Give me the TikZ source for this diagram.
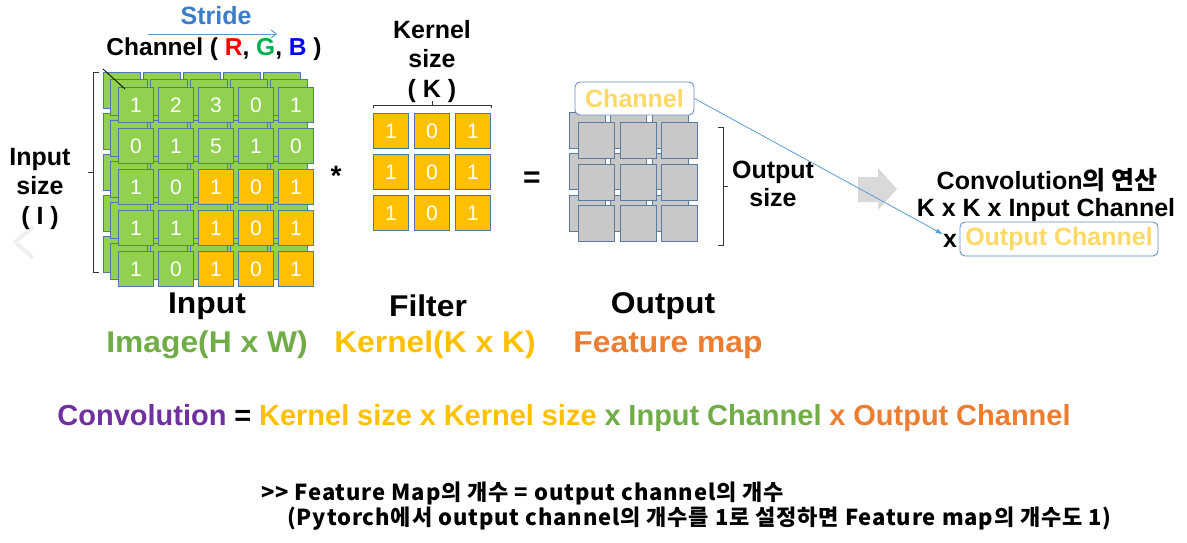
\documentclass[tikz,border=0pt]{standalone}
\usepackage{fontspec}
\setmainfont{Liberation Sans}
\newfontfamily\kr{Noto Sans CJK KR}
\newfontfamily\krnote{Noto Sans CJK KR}[LetterSpace=4]
\newfontfamily\widesans{Liberation Sans}[FakeStretch=1.06]
\usetikzlibrary{arrows.meta}
\newcommand\fsz[2]{\fontsize{#1}{#2}\selectfont}
\definecolor{strideblue}{HTML}{3D7CC9}
\definecolor{lineblue}{HTML}{5B9BD5}
\definecolor{rR}{HTML}{FF0000}
\definecolor{gG}{HTML}{00B050}
\definecolor{bB}{HTML}{0000FF}
\definecolor{cellgreen}{HTML}{92D050}
\definecolor{cellyellow}{HTML}{FFC000}
\definecolor{cellborder}{HTML}{4F79A6}
\definecolor{outgrey}{HTML}{C8C8C8}
\definecolor{outborder}{HTML}{5B7BA0}
\definecolor{chyellow}{HTML}{FFD966}
\definecolor{boxblue}{HTML}{6A8FC0}
\definecolor{imggreen}{HTML}{70AD47}
\definecolor{kerorange}{HTML}{FFC000}
\definecolor{featorange}{HTML}{ED7D31}
\definecolor{convpurple}{HTML}{7030A0}
\definecolor{arrowgrey}{HTML}{D9D9D9}
\tikzset{
  lbl/.style={font=\bfseries\fsz{25}{29}, inner sep=0pt, align=center},
  biglbl/.style={lbl, font=\widesans\bfseries\fsz{30}{30}},
  gcell/.style={draw=cellborder, fill=cellgreen, line width=0.8pt, minimum width=35pt,
    minimum height=35pt, inner sep=0pt, anchor=north west, text=white, font=\fsz{21}{21}},
  ocell/.style={gcell, fill=outgrey, draw=outborder, minimum width=36pt, minimum height=36pt},
  bgcell/.style={draw=cellborder, fill=cellgreen, line width=0.8pt},
  obgcell/.style={draw=outborder, fill=outgrey, line width=0.8pt},
  bracket/.style={draw=black!80, line width=0.8pt},
  hlbox/.style={draw=boxblue, fill=white, rounded corners=5pt, line width=0.9pt, inner sep=0pt,
    text=chyellow, font=\bfseries\fsz{25}{25}},
  note/.style={anchor=west, inner sep=0pt, font=\krnote\bfseries\fsz{22}{22}},
}
\begin{document}
\begin{tikzpicture}[x=1pt,y=-1pt]
\useasboundingbox (0,0) rectangle (1187,542);
\fill[white] (0,0) rectangle (1187,542);

% faint chevron at left
\draw[gray!12, line width=4pt, line cap=round, line join=round] (32,228) -- (15,242) -- (32,257);

% ---------- Input ----------
\node[lbl, text=strideblue] (stride) at (216,16) {Stride};
\coordinate (sa) at (148,34);
\coordinate (sb) at (277,34);
\draw[lineblue, line width=1pt, -{Straight Barb[length=5pt,width=8pt]}] (sa) -- (sb);
\node[lbl, font=\bfseries\fsz{24.5}{25}] (chan) at (214,49)
  {Channel ( \textcolor{rR}{R}, \textcolor{gG}{G}, \textcolor{bB}{B} )};

\foreach \o in {15,8} {
  \foreach \r in {0,...,4} {
    \foreach \c in {0,...,4} {
      \draw[bgcell] ({118-\o+40*\c},{87-\o+41*\r}) rectangle ++(37,36);
    }
  }
}
\foreach \vals [count=\r from 0] in {{1,2,3,0,1},{0,1,5,1,0},{1,0,1,0,1},{1,1,1,0,1},{1,0,1,0,1}} {
  \foreach \v [count=\c from 0] in \vals {
    \ifnum\r>1 \ifnum\c>1 \def\fc{cellyellow}\else\def\fc{cellgreen}\fi\else\def\fc{cellgreen}\fi
    \node[gcell, fill=\fc] (in-\r-\c) at ({118+40*\c},{87+41*\r}) {\v};
  }
}
\coordinate (pa) at (103,69);
\coordinate (pb) at (125,89);
\draw[black, line width=0.8pt] (pa) -- (pb);

\draw[bracket] (99,72) -- (93,72) -- (93,272) -- (99,272);
\draw[bracket] (93,172) -- (88,172);
\node[lbl, font=\bfseries\fsz{25}{29.5}] (insize) at (40,188.5) {Input\\size\\( I )};

\node[lbl, font=\bfseries\fsz{28}{28}] (star) at (336,176) {*};

% ---------- Filter ----------
\node[lbl, font=\bfseries\fsz{25}{29.5}] (ksize) at (432,61.5) {Kernel\\size\\( K )};
\draw[bracket] (373,108) -- (373,105) -- (491,105) -- (491,108);
\draw[bracket] (432,105) -- (432,101);
\foreach \r in {0,1,2} {
  \foreach \v [count=\c from 0] in {1,0,1} {
    \node[gcell, fill=cellyellow] (k-\r-\c) at ({373+41*\c},{113+41*\r}) {\v};
  }
}

\node[lbl, font=\bfseries\fsz{30}{30}] (eq) at (532,180) {=};

% ---------- Output ----------
\foreach \r in {0,1,2} {
  \foreach \c in {0,1,2} {
    \draw[obgcell] ({569+41.5*\c},{112+41.5*\r}) rectangle ++(36,36);
  }
}
\foreach \r in {0,1,2} {
  \foreach \c in {0,1,2} {
    \node[ocell] (o-\r-\c) at ({578+41.5*\c},{122+41.5*\r}) {};
  }
}
\node[hlbox, minimum width=119pt, minimum height=33pt] (chbox) at (634.5,98.5) {Channel};
\draw[bracket] (718,127) -- (723,127) -- (723,245) -- (718,245);
\draw[bracket] (723,186) -- (728,186);
\node[lbl, font=\bfseries\fsz{25}{28.5}] (osize) at (773,184) {Output\\size};

% grey block arrow
\fill[arrowgrey] (858,177) -- (878,177) -- (878,168) -- (897,189) -- (878,210) -- (878,202) -- (858,202) -- cycle;

% ---------- Right text ----------
\node[lbl] (convk) at (1047,180) {Convolution{\kr\bfseries 의 연산}};
\node[lbl] (kk) at (1046,210) {K x K x Input Channel};
\node[lbl] (xmul) at (950,241) {x};
\node[hlbox, minimum width=198pt, minimum height=34pt] (outch) at (1059,239) {Output Channel};
\draw[lineblue, line width=0.8pt, -{Latex[length=7pt,width=5pt]}] (chbox.east) -- (xmul.north west);

% ---------- Bottom labels ----------
\node[biglbl] (linput) at (207,306) {Input};
\node[biglbl] (lfilter) at (428,306) {Filter};
\node[biglbl] (loutput) at (663,306) {Output};
\node[biglbl, text=imggreen] (limage) at (207,345) {Image(H x W)};
\node[biglbl, text=kerorange] (lkernel) at (435,345) {Kernel(K x K)};
\node[biglbl, text=featorange] (lfeat) at (668,345) {Feature map};

% ---------- Formula ----------
\node[lbl, font=\bfseries\fsz{29}{29}] (formula) at (564,418)
  {\spaceskip=0.27em\relax\textcolor{convpurple}{Convolution} = \textcolor{kerorange}{Kernel size x Kernel size} \textcolor{imggreen}{x Input Channel} \textcolor{featorange}{x Output Channel}};

% ---------- Notes ----------
\node[note] (note1) at (261,493) {>> Feature Map의 개수 = output channel의 개수};
\node[note] (note2) at (287,519) {(Pytorch에서 output channel의 개수를 1로 설정하면 Feature map의 개수도 1)};
\end{tikzpicture}
\end{document}
